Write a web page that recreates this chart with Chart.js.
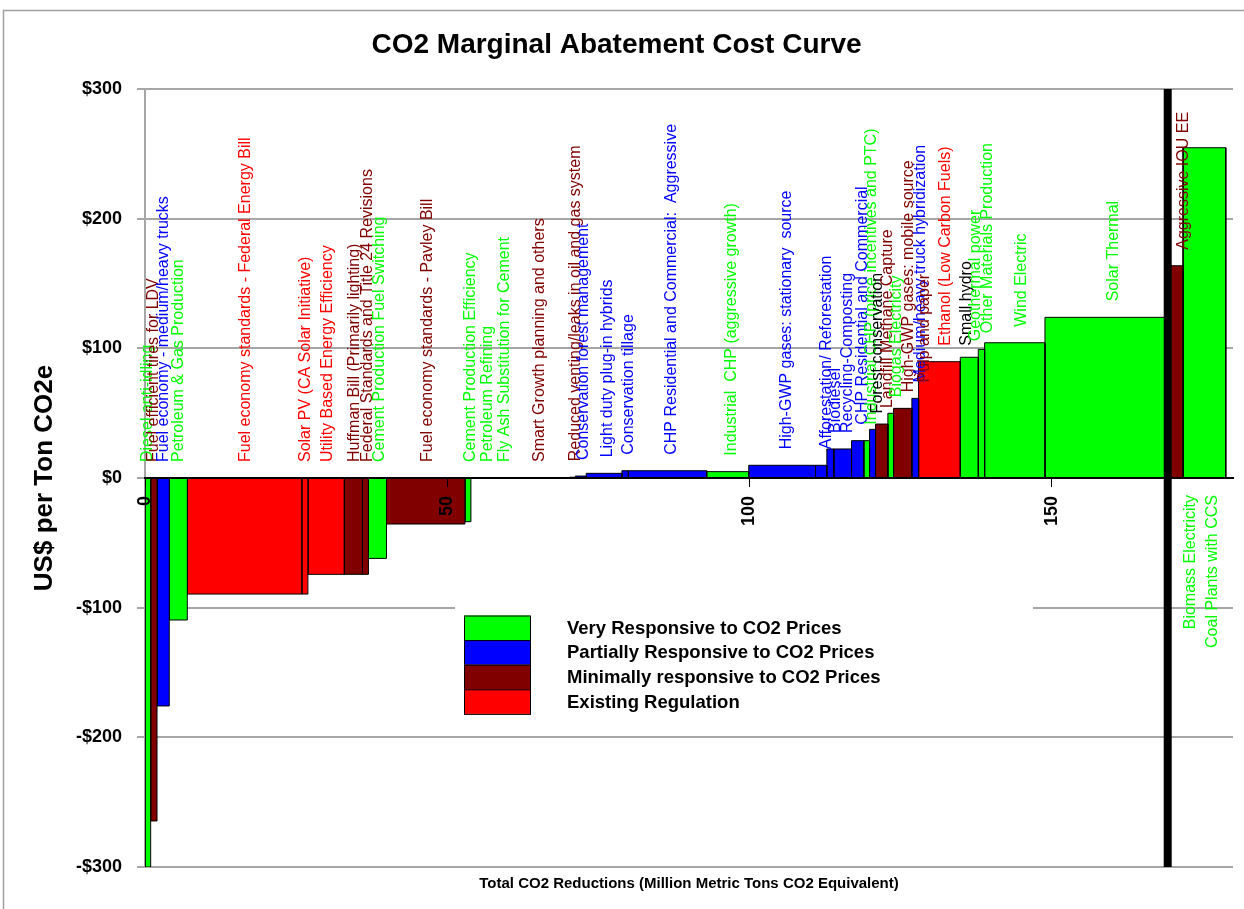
<!DOCTYPE html>
<html>
<head>
<meta charset="utf-8">
<title>CO2 Marginal Abatement Cost Curve</title>
<script src="https://cdn.jsdelivr.net/npm/chart.js@4.4.1/dist/chart.umd.min.js"></script>
<style>
  html, body { margin: 0; padding: 0; background: #fff; }
  #wrap { width: 1244px; height: 909px; }
</style>
</head>
<body>
<div id="wrap"><canvas id="macChart" width="1244" height="909"></canvas></div>
<script>
// abatement measures, left to right along the curve
const measureNames = [
    'Diesel anti-idling',
    'Fuel efficient tires for LDV',
    'Fuel economy - medium/heavy trucks',
    'Petroleum & Gas Production',
    'Fuel economy standards - Federal Energy Bill',
    'Solar PV (CA Solar Initiative)',
    'Utility Based Energy Efficiency',
    'Huffman Bill (Primarily lighting)',
    'Federal Standards and Title 24 Revisions',
    'Cement Production Fuel Switching',
    'Fuel economy standards - Pavley Bill',
    'Cement Production Efficiency',
    'Petroleum Refining',
    'Fly Ash Substitution for Cement',
    'Smart Growth planning and others',
    'Reduced venting/leaks in oil and gas system',
    'Conservation forest management',
    'Light duty plug-in hybrids',
    'Conservation tillage',
    'CHP Residential and Commercial:  Aggressive',
    'Industrial  CHP (aggressive growth)',
    'High-GWP gases: stationary  source',
    'Afforestation/ Reforestation',
    'Biodiesel',
    'Recycling-Composting',
    'CHP Residential and Commercial',
    'Industrial CHP (price incentives and PTC)',
    'Forest conservation',
    'Landfill Methane Capture',
    'Biogas Electricity',
    'High-GWP gases: mobile source',
    'Medium/heavy truck hybridization',
    'Pulp and paper',
    'Ethanol (Low Carbon Fuels)',
    'Small hydro',
    'Geothermal power',
    'Other Materials Production',
    'Wind Electric',
    'Solar Thermal',
    'Aggressive IOU EE',
    'Biomass Electricity',
    'Coal Plants with CCS'
];

// million metric tons CO2e for each measure
const measureWidths = [0.94, 1.05, 2.03, 2.98, 18.94, 1.01, 6.0, 3.03, 0.99, 2.98,
    12.98, 0.99, 4.78, 0.6, 10.9, 1.0, 1.8, 5.9, 1.07, 12.96,
    6.95, 11.05, 1.87, 1.16, 2.93, 2.03, 0.95, 0.99, 2.04, 0.94,
    3.03, 1.11, 0, 6.9, 0, 2.98, 1.05, 9.98, 20.31, 2.54,
    0, 7.07];

// US$ per ton CO2e
const measureCosts = [-300, -264.5, -175.8, -109.5, -89.5, -89.5, -74.3, -74.3, -74.3, -62,
    -35.5, -33.7, 0, 0, 0, 0.6, 1.5, 3.6, 5.6, 5.6,
    4.9, 9.8, 9.8, 22.4, 22.4, 28.8, 28.8, 37.5, 41.6, 49.9,
    53.7, 61.4, 61.4, 89.7, 89.7, 93.1, 99.2, 104.3, 123.9, 163.7,
    254.7, 254.7];

// index into groupNames
const measureGroups = [0, 2, 1, 0, 3, 3, 3, 2, 2, 0,
    2, 0, 0, 0, 2, 2, 1, 1, 1, 1,
    0, 1, 1, 1, 1, 1, 0, 1, 2, 0,
    2, 1, 2, 3, 0, 0, 0, 0, 0, 2,
    0, 0];

const groupNames = [
    'Very Responsive to CO2 Prices',
    'Partially Responsive to CO2 Prices',
    'Minimally responsive to CO2 Prices',
    'Existing Regulation'
];

const costTicks = [-300, -200, -100, 0, 100, 200, 300];
const reductionTicks = [0, 50, 100, 150];
const dividerAt = 169.2;

const groupColors = ['#00ff00', '#0000ff', '#800000', '#ff0000'];
const blackLabels = ['Forest conservation', 'Small hydro'];
const FONT = '"Liberation Sans", Arial, sans-serif';

let runningTotal = 0;
const bars = measureNames.map((name, i) => {
    const x0 = runningTotal;
    runningTotal += measureWidths[i];
    return { name, x0, x1: runningTotal, cost: measureCosts[i], group: measureGroups[i] };
});

const datasets = bars.map(b => ({
    label: b.name,
    data: [
        { x: b.x0, y: 0 },
        { x: b.x0, y: b.cost },
        { x: b.x1, y: b.cost },
        { x: b.x1, y: 0 }
    ],
    borderColor: '#000',
    borderWidth: 1,
    backgroundColor: groupColors[b.group],
    fill: 'origin',
    pointRadius: 0,
    tension: 0
}));

datasets.push({
    label: 'divider',
    data: [{ x: dividerAt, y: -300 }, { x: dividerAt, y: 300 }],
    borderColor: '#000',
    borderWidth: 8,
    fill: false,
    pointRadius: 0,
    order: -1
});

const framePlugin = {
    id: 'frame',
    beforeDraw(chart) {
        const ctx = chart.ctx;
        ctx.save();
        ctx.fillStyle = '#fff';
        ctx.fillRect(0, 0, chart.width, chart.height);
        ctx.strokeStyle = '#a0a0a0';
        ctx.lineWidth = 1.5;
        ctx.strokeRect(3.5, 10.5, 1300, 1000);
        ctx.restore();
    }
};

const labelPlugin = {
    id: 'measureLabels',
    afterDatasetsDraw(chart) {
        const { ctx, chartArea, scales } = chart;
        const xs = scales.xLabel, ys = scales.y;
        const zeroY = ys.getPixelForValue(0);
        ctx.save();
        ctx.font = '16px ' + FONT;
        ctx.textBaseline = 'middle';
        bars.forEach(b => {
            const x = xs.getPixelForValue((b.x0 + b.x1) / 2);
            const w = ctx.measureText(b.name).width;
            let y = ys.getPixelForValue(Math.max(b.cost, 0)) - 16;
            let align = 'left';
            if (y - w < chartArea.top) {
                y = zeroY + 17;
                align = 'right';
            }
            ctx.fillStyle = blackLabels.includes(b.name) ? '#000' : groupColors[b.group];
            ctx.save();
            ctx.translate(x, y);
            ctx.rotate(-Math.PI / 2);
            ctx.textAlign = align;
            ctx.fillText(b.name, 0, 0);
            ctx.restore();
        });
        ctx.restore();
    }
};

const legendPlugin = {
    id: 'groupLegend',
    afterDraw(chart) {
        const ctx = chart.ctx;
        const top = 615.5, row = 24.6;
        ctx.save();
        ctx.fillStyle = '#fff';
        ctx.fillRect(455, 604, 578, 118);
        ctx.font = 'bold 18.5px ' + FONT;
        ctx.textBaseline = 'middle';
        groupNames.forEach((name, i) => {
            const y = top + i * row;
            ctx.fillStyle = groupColors[i];
            ctx.fillRect(464, y, 66, row);
            ctx.strokeStyle = '#000';
            ctx.lineWidth = 1;
            ctx.strokeRect(464.5, y + 0.5, 66, row);
            ctx.fillStyle = '#000';
            ctx.fillText(name, 567, y + row / 2 + 1);
        });
        ctx.restore();
    }
};

new Chart(document.getElementById('macChart'), {
    type: 'line',
    data: { datasets },
    plugins: [framePlugin, labelPlugin, legendPlugin],
    options: {
        responsive: false,
        devicePixelRatio: 1,
        animation: false,
        events: [],
        layout: { padding: { top: 0, left: 0, right: 11, bottom: 0 } },
        scales: {
            x: {
                type: 'linear',
                min: 0,
                max: 180,
                position: { y: 0 },
                afterBuildTicks: s => { s.ticks = reductionTicks.map(v => ({ value: v })); },
                grid: { drawOnChartArea: false, color: '#000', tickLength: 8, z: 1 },
                border: { display: true, color: '#000', width: 2, z: 1 },
                ticks: {
                    z: 1,
                    minRotation: 90,
                    maxRotation: 90,
                    padding: 10,
                    color: '#000',
                    font: { family: FONT, size: 18, weight: 'bold' }
                }
            },
            xLabel: {
                type: 'linear',
                min: 0,
                max: 178.66,
                display: false
            },
            y: {
                type: 'linear',
                min: -300,
                max: 300,
                afterFit: s => { s.width = 145; },
                afterBuildTicks: s => { s.ticks = costTicks.map(v => ({ value: v })); },
                grid: { color: '#a6a6a6', lineWidth: 2, tickLength: 8 },
                border: { color: '#a6a6a6', width: 2 },
                ticks: {
                    padding: 15,
                    color: '#000',
                    font: { family: FONT, size: 18, weight: 'bold' },
                    callback: v => (v < 0 ? '-$' : '$') + Math.abs(v)
                },
                title: {
                    display: true,
                    text: 'US$ per Ton CO2e',
                    color: '#000',
                    font: { family: FONT, size: 26, weight: 'bold' },
                    padding: { top: 29, bottom: 0 }
                }
            }
        },
        plugins: {
            legend: { display: false },
            tooltip: { enabled: false },
            title: {
                display: true,
                text: 'CO2 Marginal Abatement Cost Curve',
                color: '#000',
                font: { family: FONT, size: 28, weight: 'bold' },
                padding: { top: 28, bottom: 27.4 }
            },
            subtitle: {
                display: true,
                position: 'bottom',
                fullSize: false,
                text: 'Total CO2 Reductions (Million Metric Tons CO2 Equivalent)',
                color: '#000',
                font: { family: FONT, size: 15, weight: 'bold' },
                padding: { top: 8, bottom: 16 }
            }
        }
    }
});
</script>
</body>
</html>
